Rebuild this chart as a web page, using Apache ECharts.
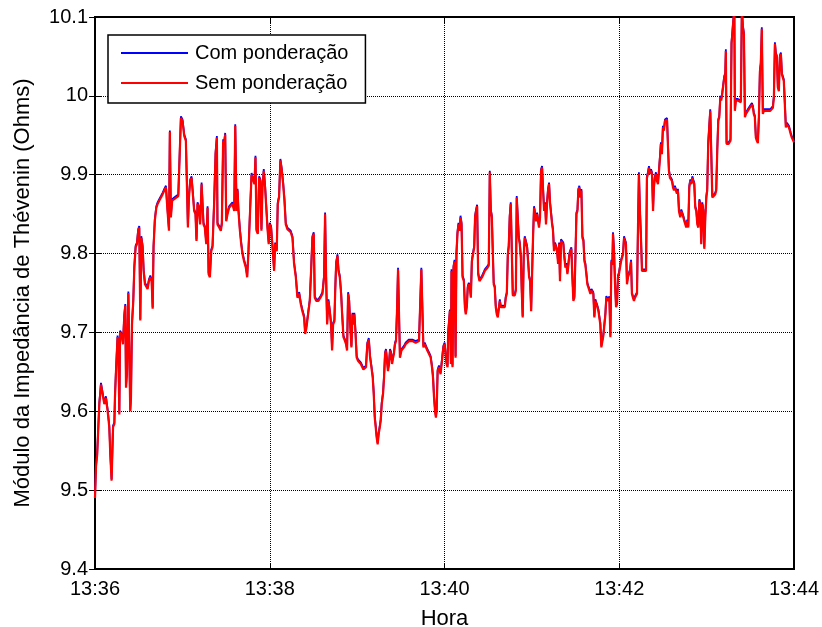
<!DOCTYPE html>
<html>
<head>
<meta charset="utf-8">
<script src="https://cdn.jsdelivr.net/npm/echarts@6/dist/echarts.min.js"></script>
<style>
  html, body { margin: 0; padding: 0; background: #fff; }
  #chart { width: 822px; height: 627px; }
</style>
</head>
<body>
<div id="chart"></div>
<script>
// Time in seconds after 13:36:00
const seconds = [
  0,0.7,1.5,2.3,3.0,3.5,4.1,6.4,7.5,8.7,9.8,10.5,11.4,12.4,13.3,13.7,14.4,15.5,16.0,16.7,17.2,18.3,19.2,20.1,20.8,21.3,21.9,22.9,23.8,24.2,24.7,25.4,26.3,27.0,27.9,28.8,29.7,30.4,31.1,31.8,32.7,33.4,34.3,35.2,36.1,37.0,38.0,38.9,39.6,40.2,41.1,42.1,43.0,44.1,45.3,46.4,47.6,48.7,49.8,50.8,51.4,52.1,53.0,54.4,55.8,57.2,58.5,59.0,60.1,61.3,62.4,63.1,63.8,64.5,65.4,66.3,67.0,68.1,69.0,69.7,70.4,71.3,72.2,73.2,73.9,74.5,75.4,76.4,77.3,78.0,78.9,79.8,80.7,81.8,82.8,83.7,84.1,85.3,
  86.4,87.1,88.0,88.7,89.4,90.1,91.0,92.1,93.3,94.4,95.6,96.3,97.2,97.9,98.5,99.5,100.4,101.3,102.4,103.6,104.5,105.4,106.5,107.5,108.6,109.5,110.2,110.9,111.8,112.7,113.6,114.3,115.0,115.9,116.8,117.7,118.4,119.3,120.0,120.9,121.9,123.0,123.7,124.8,125.5,126.4,127.3,128.3,129.2,130.1,131.0,132.1,133.3,134.4,135.6,136.7,137.9,139.0,140.2,141.3,142.4,143.6,144.3,145.2,146.3,147.5,148.4,149.3,150.2,150.9,152.0,153.4,154.8,156.2,157.3,158.0,158.7,159.4,160.3,161.2,162.1,
  162.8,163.5,164.4,164.9,165.6,166.5,167.2,168.1,169.0,169.7,170.6,171.5,172.4,173.1,173.8,174.5,175.2,176.1,176.8,177.4,178.1,178.8,179.7,180.6,181.6,182.5,183.4,184.3,185.2,186.1,187.0,188.0,188.9,189.8,190.7,191.4,192.1,192.8,193.4,194.1,194.8,195.5,196.2,196.9,197.8,198.5,199.2,199.8,200.5,201.2,201.9,202.6,203.3,204.0,204.7,205.3,206.0,206.7,207.4,208.1,208.8,209.4,210.4,211.3,212.2,213.3,214.5,215.6,216.8,217.9,219.1,220.2,221.3,222.5,223.6,224.1,224.8,225.5,226.4,227.3,228.2,229.3,230.5,231.4,232.1,232.8,233.5,234.1,234.6,235.3,236.2,237.3,238.5,239.2,240.1,
  241.4,242.1,242.5,243.0,243.7,244.4,244.8,245.5,246.2,246.9,247.6,248.2,248.9,249.6,250.3,251.0,251.7,252.4,253.3,254.0,254.6,255.3,256.0,256.7,257.4,258.1,258.8,259.7,260.4,261.0,261.7,262.4,263.1,264.0,264.9,265.8,266.8,267.7,268.6,269.5,270.4,271.1,271.8,272.5,273.2,273.8,274.5,275.2,275.9,276.6,277.3,278.0,278.6,279.3,280.0,280.7,281.4,282.1,282.8,283.5,284.1,284.8,285.5,286.2,286.9,287.6,288.3,289.0,289.6,290.3,291.0,291.7,292.4,293.1,293.7,294.4,295.1,296.0,296.7,297.4,298.1,298.8,299.5,300.1,300.8,301.5,302.2,302.9,303.6,304.3,304.9,305.6,306.3,307.0,307.7,308.4,309.1,309.7,310.4,311.1,311.8,312.5,313.2,313.9,314.5,315.2,315.9,316.6,317.3,318.0,318.7,319.3,320.0,
  320.7,321.6,322.3,323.0,323.7,324.4,325.1,325.8,326.5,327.1,327.8,328.5,329.2,329.9,330.6,331.3,331.9,332.6,333.3,334.0,334.7,335.4,336.1,336.7,337.4,338.1,338.8,339.5,340.2,340.9,341.5,342.2,342.9,343.6,344.3,345.0,345.7,346.3,347.0,347.7,348.4,349.1,349.8,350.5,351.1,351.8,352.5,353.2,353.9,354.6,355.3,355.7,356.4,357.1,357.8,358.5,359.1,359.8,360.5,361.2,361.9,362.6,363.3,363.9,364.6,365.3,366.0,366.7,367.4,368.1,368.7,369.4,370.1,370.8,371.5,372.2,372.9,373.5,374.2,374.9,375.6,376.3,377.0,377.7,378.4,379.0,379.7,380.4,381.1,381.8,382.5,383.2,383.8,384.5,385.2,385.9,386.6,387.3,388.0,388.6,389.3,390.0,390.7,391.4,392.1,392.8,393.4,394.1,394.8,395.5,396.2,396.9,397.6,398.2,398.9,
  399.6,400.3,401.0,401.9,402.6,403.3,404.0,404.7,405.4,406.0,406.7,407.4,408.1,408.8,409.5,410.2,410.8,411.5,412.2,412.9,413.6,414.3,415.0,415.6,416.3,417.0,417.7,418.4,419.1,419.8,420.4,421.1,421.8,422.5,423.2,423.9,424.6,425.2,425.9,426.6,427.3,428.0,428.7,429.4,430.0,430.7,431.4,432.1,432.8,433.2,433.7,434.4,435.1,435.8,436.4,437.1,437.8,438.5,439.0,439.4,440.1,440.8,441.5,442.2,442.8,443.5,444.2,444.9,445.6,446.3,447.0,447.6,448.3,449.0,449.7,450.4,451.1,451.8,452.4,453.1,453.8,454.5,455.2,455.9,456.6,457.2,457.9,458.6,459.3,460.2,461.4,462.5,463.7,464.8,465.5,466.2,466.9,467.5,468.2,468.9,469.6,470.3,471.0,471.7,472.3,473.0,473.7,474.4,475.1,475.8,476.5,477.1,477.8,478.5,479.2,480.0
];

// Impedance without weighting (Ohms)
const semPonderacao = [
  9.490,9.530,9.545,9.580,9.610,9.620,9.634,9.609,9.617,9.600,9.580,9.545,9.512,9.580,9.584,9.617,9.650,9.694,9.686,9.596,9.700,9.697,9.685,9.720,9.734,9.630,9.647,9.750,9.752,9.600,9.617,9.710,9.740,9.782,9.808,9.812,9.829,9.833,9.715,9.820,9.808,9.778,9.761,9.763,9.755,9.765,9.770,9.765,9.730,9.808,9.842,9.858,9.863,9.867,9.871,9.875,9.880,9.884,9.854,9.829,9.954,9.846,9.867,9.869,9.871,9.873,9.875,9.972,9.968,9.949,9.943,9.888,9.833,9.871,9.892,9.896,9.880,9.854,9.850,9.816,9.863,9.858,9.837,9.888,9.890,9.837,9.833,9.812,9.858,9.774,9.770,9.803,9.808,9.863,9.926,9.947,9.837,9.833,
  9.829,9.837,9.943,9.939,9.951,9.841,9.850,9.858,9.860,9.863,9.854,9.962,9.854,9.880,9.854,9.829,9.812,9.799,9.790,9.782,9.770,9.803,9.854,9.900,9.898,9.888,9.922,9.829,9.825,9.896,9.892,9.829,9.884,9.905,9.884,9.884,9.833,9.812,9.837,9.833,9.808,9.778,9.812,9.803,9.863,9.871,9.918,9.905,9.888,9.867,9.837,9.831,9.829,9.827,9.820,9.787,9.770,9.744,9.749,9.736,9.727,9.719,9.698,9.706,9.706,9.740,9.778,9.820,9.825,9.744,9.740,9.740,9.744,9.749,9.770,9.850,9.770,9.710,9.740,9.727,9.710,
  9.677,9.710,9.714,9.749,9.787,9.797,9.778,9.770,9.749,9.723,9.694,9.690,9.685,9.677,9.749,9.740,9.710,9.681,9.723,9.710,9.723,9.702,9.668,9.664,9.664,9.660,9.658,9.653,9.651,9.656,9.685,9.691,9.668,9.656,9.643,9.622,9.592,9.579,9.567,9.558,9.571,9.579,9.588,9.609,9.622,9.643,9.673,9.677,9.677,9.651,9.660,9.677,9.673,9.660,9.668,9.673,9.685,9.689,9.727,9.780,9.778,9.668,9.677,9.677,9.681,9.685,9.687,9.689,9.689,9.689,9.687,9.687,9.687,9.689,9.689,9.780,9.778,9.681,9.685,9.685,9.677,9.673,9.668,9.656,9.643,9.618,9.600,9.592,9.600,9.651,9.656,9.647,9.668,9.681,9.685,
  9.660,9.656,9.698,9.700,9.727,9.660,9.778,9.656,9.782,9.790,9.668,9.799,9.825,9.837,9.829,9.846,9.837,9.770,9.765,9.732,9.723,9.732,9.757,9.761,9.757,9.744,9.790,9.792,9.808,9.846,9.854,9.860,9.774,9.765,9.767,9.770,9.774,9.778,9.780,9.782,9.785,9.903,9.854,9.846,9.799,9.761,9.757,9.732,9.723,9.719,9.717,9.740,9.732,9.732,9.732,9.730,9.732,9.744,9.749,9.799,9.808,9.846,9.863,9.863,9.747,9.747,9.747,9.753,9.871,9.869,9.820,9.812,9.795,9.749,9.719,9.795,9.820,9.818,9.808,9.790,9.770,9.765,9.727,9.770,9.820,9.858,9.850,9.841,9.850,9.850,9.833,9.846,9.905,9.909,9.880,9.854,9.863,9.837,9.863,9.880,9.888,9.863,9.863,9.837,9.829,9.803,9.812,9.808,9.803,9.787,9.812,9.765,9.816,
  9.816,9.812,9.795,9.782,9.786,9.774,9.786,9.799,9.803,9.806,9.770,9.740,9.744,9.795,9.850,9.854,9.880,9.884,9.871,9.880,9.820,9.816,9.790,9.786,9.774,9.761,9.757,9.753,9.749,9.753,9.755,9.749,9.719,9.740,9.736,9.732,9.727,9.719,9.710,9.681,9.681,9.696,9.696,9.723,9.744,9.744,9.740,9.744,9.694,9.790,9.786,9.825,9.803,9.761,9.732,9.736,9.770,9.774,9.782,9.790,9.790,9.799,9.820,9.816,9.812,9.761,9.770,9.774,9.778,9.790,9.749,9.744,9.740,9.744,9.746,9.749,9.837,9.901,9.854,9.820,9.778,9.778,9.778,9.778,9.778,9.896,9.901,9.909,9.901,9.905,9.901,9.854,9.884,9.896,9.901,9.892,9.888,9.888,9.922,9.939,9.926,9.960,9.956,9.968,9.968,9.970,9.939,9.905,9.896,9.896,9.892,9.884,9.880,9.884,9.880,
  9.876,9.880,9.854,9.846,9.854,9.850,9.846,9.841,9.843,9.833,9.841,9.833,9.884,9.892,9.888,9.896,9.892,9.888,9.858,9.854,9.837,9.833,9.867,9.863,9.812,9.863,9.854,9.806,9.846,9.871,9.880,9.939,9.960,9.981,9.981,9.871,9.871,9.873,9.875,9.880,9.930,9.968,9.973,9.998,9.994,10.002,10.002,10.023,10.027,10.057,9.939,9.937,9.939,9.941,9.943,10.066,10.082,10.099,10.115,9.981,9.994,9.994,9.994,9.994,9.994,9.992,10.110,10.087,10.078,9.973,9.977,9.977,9.981,9.981,9.985,9.985,9.989,9.985,9.977,9.973,9.947,9.943,9.940,9.973,10.031,10.040,10.085,9.977,9.981,9.981,9.981,9.981,9.981,9.981,9.985,9.998,10.066,10.053,10.049,10.011,10.006,10.049,10.053,10.027,10.023,10.019,10.019,9.960,9.964,9.962,9.960,9.956,9.951,9.947,9.945,9.941
];

// Impedance with weighting (Ohms)
const comPonderacao = [
  9.492,9.532,9.547,9.582,9.612,9.622,9.636,9.611,9.619,9.602,9.582,9.547,9.514,9.582,9.586,9.619,9.652,9.696,9.688,9.598,9.702,9.699,9.687,9.722,9.736,9.632,9.649,9.752,9.754,9.602,9.619,9.712,9.742,9.784,9.810,9.814,9.831,9.835,9.717,9.822,9.810,9.780,9.763,9.765,9.757,9.767,9.772,9.767,9.732,9.810,9.844,9.860,9.865,9.869,9.873,9.877,9.882,9.886,9.856,9.831,9.956,9.848,9.869,9.871,9.873,9.875,9.877,9.974,9.970,9.951,9.945,9.890,9.835,9.873,9.894,9.898,9.882,9.856,9.852,9.818,9.865,9.860,9.839,9.890,9.892,9.839,9.835,9.814,9.860,9.776,9.772,9.805,9.810,9.865,9.928,9.949,9.839,9.835,
  9.831,9.839,9.945,9.941,9.953,9.843,9.852,9.860,9.862,9.865,9.856,9.964,9.856,9.882,9.856,9.831,9.814,9.801,9.792,9.784,9.772,9.805,9.856,9.902,9.900,9.890,9.924,9.831,9.827,9.898,9.894,9.831,9.886,9.907,9.886,9.886,9.835,9.814,9.839,9.835,9.810,9.780,9.814,9.805,9.865,9.873,9.920,9.907,9.890,9.869,9.839,9.833,9.831,9.829,9.822,9.789,9.772,9.746,9.751,9.738,9.729,9.721,9.700,9.708,9.708,9.742,9.780,9.822,9.827,9.746,9.742,9.742,9.746,9.751,9.772,9.852,9.772,9.712,9.742,9.729,9.712,
  9.679,9.712,9.716,9.751,9.789,9.799,9.780,9.772,9.751,9.725,9.696,9.692,9.687,9.679,9.751,9.742,9.712,9.683,9.725,9.712,9.725,9.704,9.670,9.666,9.666,9.662,9.660,9.655,9.653,9.658,9.687,9.693,9.670,9.658,9.645,9.624,9.594,9.581,9.569,9.560,9.573,9.581,9.590,9.611,9.624,9.645,9.675,9.679,9.679,9.653,9.662,9.679,9.675,9.662,9.670,9.675,9.687,9.691,9.729,9.782,9.780,9.670,9.679,9.679,9.683,9.687,9.689,9.691,9.691,9.691,9.689,9.689,9.689,9.691,9.691,9.782,9.780,9.683,9.687,9.687,9.679,9.675,9.670,9.658,9.645,9.620,9.602,9.594,9.602,9.653,9.658,9.649,9.670,9.683,9.687,
  9.662,9.658,9.700,9.702,9.729,9.662,9.780,9.658,9.784,9.792,9.670,9.801,9.827,9.839,9.831,9.848,9.839,9.772,9.767,9.734,9.725,9.734,9.759,9.763,9.759,9.746,9.792,9.794,9.810,9.848,9.856,9.862,9.776,9.767,9.769,9.772,9.776,9.780,9.782,9.784,9.787,9.905,9.856,9.848,9.801,9.763,9.759,9.734,9.725,9.721,9.719,9.742,9.734,9.734,9.734,9.732,9.734,9.746,9.751,9.801,9.810,9.848,9.865,9.865,9.749,9.749,9.749,9.755,9.873,9.871,9.822,9.814,9.797,9.751,9.721,9.797,9.822,9.820,9.810,9.792,9.772,9.767,9.729,9.772,9.822,9.860,9.852,9.843,9.852,9.852,9.835,9.848,9.907,9.911,9.882,9.856,9.865,9.839,9.865,9.882,9.890,9.865,9.865,9.839,9.831,9.805,9.814,9.810,9.805,9.789,9.814,9.767,9.818,
  9.818,9.814,9.797,9.784,9.788,9.776,9.788,9.801,9.805,9.808,9.772,9.742,9.746,9.797,9.852,9.856,9.882,9.886,9.873,9.882,9.822,9.818,9.792,9.788,9.776,9.763,9.759,9.755,9.751,9.755,9.757,9.751,9.721,9.742,9.738,9.734,9.729,9.721,9.712,9.683,9.683,9.698,9.698,9.725,9.746,9.746,9.742,9.746,9.696,9.792,9.788,9.827,9.805,9.763,9.734,9.738,9.772,9.776,9.784,9.792,9.792,9.801,9.822,9.818,9.814,9.763,9.772,9.776,9.780,9.792,9.751,9.746,9.742,9.746,9.748,9.751,9.839,9.903,9.856,9.822,9.780,9.780,9.780,9.780,9.780,9.898,9.903,9.911,9.903,9.907,9.903,9.856,9.886,9.898,9.903,9.894,9.890,9.890,9.924,9.941,9.928,9.962,9.958,9.970,9.970,9.972,9.941,9.907,9.898,9.898,9.894,9.886,9.882,9.886,9.882,
  9.878,9.882,9.856,9.848,9.856,9.852,9.848,9.843,9.845,9.835,9.843,9.835,9.886,9.894,9.890,9.898,9.894,9.890,9.860,9.856,9.839,9.835,9.869,9.865,9.814,9.865,9.856,9.808,9.848,9.873,9.882,9.941,9.962,9.983,9.983,9.873,9.873,9.875,9.877,9.882,9.932,9.970,9.975,10.000,9.996,10.004,10.004,10.025,10.029,10.059,9.941,9.939,9.941,9.943,9.945,10.068,10.084,10.101,10.117,9.983,9.996,9.996,9.996,9.996,9.996,9.994,10.112,10.089,10.080,9.975,9.979,9.979,9.983,9.983,9.987,9.987,9.991,9.987,9.979,9.975,9.949,9.945,9.942,9.975,10.033,10.042,10.087,9.979,9.983,9.983,9.983,9.983,9.983,9.983,9.987,10.000,10.068,10.055,10.051,10.013,10.008,10.051,10.055,10.029,10.025,10.021,10.021,9.962,9.966,9.964,9.962,9.958,9.953,9.949,9.947,9.943
];

const seriesNames = ['Com ponderação', 'Sem ponderação'];
const xTickSeconds = [0, 120, 240, 360, 480];
const xTickLabels = ['13:36', '13:38', '13:40', '13:42', '13:44'];

const FONT = '"Liberation Sans", Arial, Helvetica, sans-serif';

function pairs(vals) {
  const n = Math.min(seconds.length, vals.length);
  const out = [];
  for (let i = 0; i < n; i++) out.push([seconds[i], vals[i]]);
  return out;
}

const chart = echarts.init(document.getElementById('chart'), null, { renderer: 'canvas' });

const gridLine = { show: true, lineStyle: { color: '#000', width: 1, type: [1, 1] } };
const tickStyle = { show: true, inside: true, length: 6, lineStyle: { color: '#000', width: 1 } };

chart.setOption({
  animation: false,
  backgroundColor: '#fff',
  grid: {
    left: 95, right: 28, top: 17, bottom: 58,
    containLabel: false,
    outerBoundsMode: 'none',
    show: true, borderColor: '#000', borderWidth: 2, backgroundColor: '#fff'
  },
  legend: {
    data: seriesNames,
    orient: 'vertical',
    left: 108, top: 35,
    padding: [7, 17, 9, 13],
    itemGap: 8,
    itemWidth: 67, itemHeight: 2,
    icon: 'rect',
    backgroundColor: '#fff',
    borderColor: '#000', borderWidth: 1.5, borderRadius: 0,
    textStyle: { fontFamily: FONT, fontSize: 20, color: '#000', lineHeight: 22, padding: [0, 0, 0, 2] }
  },
  xAxis: [{
    type: 'value', min: 0, max: 480, interval: 120,
    name: 'Hora', nameLocation: 'middle', nameGap: 39,
    nameTextStyle: { fontFamily: FONT, fontSize: 22, color: '#000' },
    axisLine: { show: false },
    axisTick: tickStyle,
    axisLabel: {
      fontFamily: FONT, fontSize: 20, color: '#000', margin: 10,
      formatter: v => { const i = xTickSeconds.indexOf(Math.round(v)); return i >= 0 ? xTickLabels[i] : ''; }
    },
    splitLine: gridLine
  }, {
    type: 'value', min: 0, max: 480, interval: 120, position: 'top',
    axisLine: { show: false }, axisTick: tickStyle,
    axisLabel: { show: false }, splitLine: { show: false }
  }],
  yAxis: [{
    type: 'value', min: 9.4, max: 10.1, interval: 0.1,
    name: 'Módulo da Impedância de Thévenin (Ohms)',
    nameLocation: 'middle', nameGap: 61, nameRotate: 90,
    nameTextStyle: { fontFamily: FONT, fontSize: 22, color: '#000' },
    axisLine: { show: false },
    axisTick: tickStyle,
    axisLabel: {
      fontFamily: FONT, fontSize: 20, color: '#000', margin: 7,
      formatter: v => String(parseFloat(v.toFixed(2)))
    },
    splitLine: gridLine
  }, {
    type: 'value', min: 9.4, max: 10.1, interval: 0.1, position: 'right',
    axisLine: { show: false }, axisTick: tickStyle,
    axisLabel: { show: false }, splitLine: { show: false }
  }],
  series: [{
    name: seriesNames[0], type: 'line', data: pairs(comPonderacao),
    xAxisIndex: 0, yAxisIndex: 0,
    showSymbol: false, clip: true,
    color: '#0000ff', lineStyle: { color: '#0000ff', width: 1.8 }, z: 3
  }, {
    name: seriesNames[1], type: 'line', data: pairs(semPonderacao),
    xAxisIndex: 0, yAxisIndex: 0,
    showSymbol: false, clip: true,
    color: '#ff0000', lineStyle: { color: '#ff0000', width: 2.2 }, z: 4
  }]
});
</script>
</body>
</html>
